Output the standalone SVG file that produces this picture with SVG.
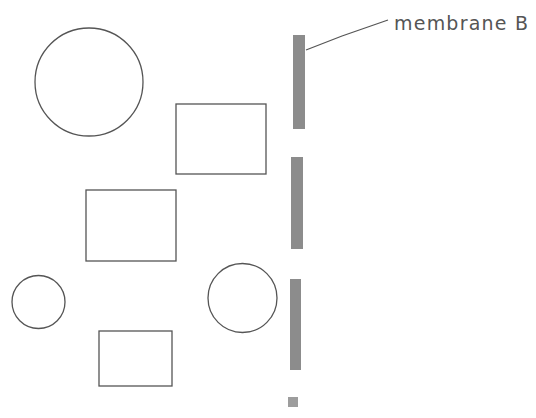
<svg xmlns="http://www.w3.org/2000/svg" width="536" height="418" viewBox="0 0 536 418">
<style>
.o{fill:none;stroke:#555;stroke-width:1.3}
.m{fill:#8c8c8c}
.t{font-family:"DejaVu Sans","Liberation Sans",sans-serif;font-size:19px;fill:#555}
</style>
<rect width="536" height="418" fill="#fff"/>
<g id="circle-large"><circle class="o" cx="89" cy="82" r="54"/></g>
<g id="rect-1"><rect class="o" x="176" y="104" width="90" height="70"/></g>
<g id="rect-2"><rect class="o" x="86" y="190" width="90" height="71"/></g>
<g id="circle-small"><circle class="o" cx="38.5" cy="302" r="26.5"/></g>
<g id="circle-medium"><circle class="o" cx="242.5" cy="298" r="34.5"/></g>
<g id="rect-3"><rect class="o" x="99" y="331" width="73" height="55"/></g>
<g id="membrane-B">
<rect class="m" x="293" y="35" width="12" height="94"/>
<rect class="m" x="291" y="157" width="12" height="92"/>
<rect class="m" x="290" y="279" width="11" height="91"/>
<rect class="m" x="288" y="397" width="10" height="10" fill-opacity="0.85"/>
</g>
<g id="connectors">
<path d="M306 50 L342 36 L388 20" fill="none" stroke="#555" stroke-width="1.2"/>
</g>
<g id="label"><text class="t" x="394" y="30" textLength="134" lengthAdjust="spacing">membrane B</text></g>
</svg>
